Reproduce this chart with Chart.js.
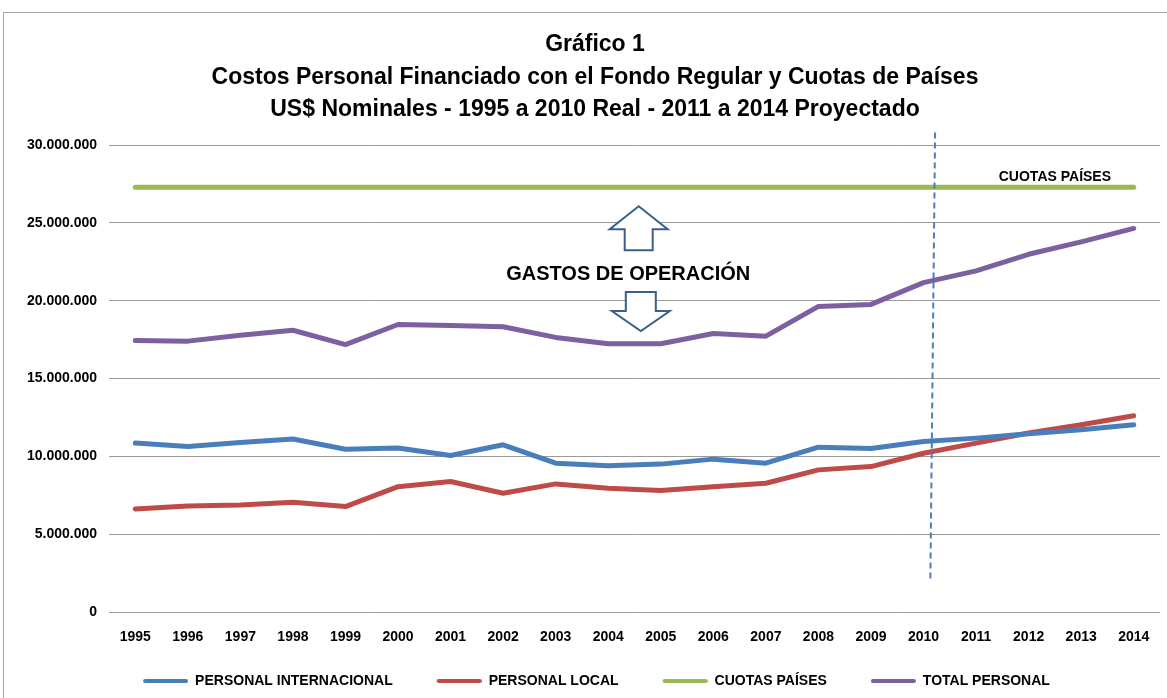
<!DOCTYPE html>
<html>
<head>
<meta charset="utf-8">
<script src="https://cdn.jsdelivr.net/npm/chart.js@4.4.1/dist/chart.umd.min.js"></script>
<style>
  html, body { margin: 0; padding: 0; background: #fff; }
  #wrap { position: relative; width: 1167px; height: 698px; overflow: hidden; }
  #frame { position: absolute; left: 3px; top: 12px; width: 1200px; height: 720px; border: 1px solid #a6a6a6; }
  #title { position: absolute; left: 0; top: 27px; width: 1190px; text-align: center;
           font-family: "Liberation Sans", sans-serif; font-weight: bold;
           font-size: 23px; line-height: 32.5px; color: #000; }
  canvas { position: absolute; left: 0; top: 0; }
</style>
</head>
<body>
<div id="wrap">
  <div id="frame"></div>
  <canvas id="chart" width="1167" height="698"></canvas>
  <div id="title">Gráfico 1<br>Costos Personal Financiado con el Fondo Regular y Cuotas de Países<br>US$ Nominales - 1995 a 2010 Real - 2011 a 2014 Proyectado</div>
</div>
<script>
const years = ["1995","1996","1997","1998","1999","2000","2001","2002","2003","2004",
               "2005","2006","2007","2008","2009","2010","2011","2012","2013","2014"];

// US$
const personalInternacional = [10850000,10630000,10890000,11110000,10460000,10530000,10050000,10740000,9560000,9390000,
                               9500000,9820000,9560000,10590000,10500000,10950000,11170000,11450000,11710000,12030000];
const personalLocal = [6620000,6810000,6880000,7050000,6770000,8050000,8380000,7630000,8230000,7950000,
                       7800000,8050000,8270000,9130000,9340000,10200000,10850000,11500000,12030000,12610000];
const cuotasPaises = [27280000,27280000,27280000,27280000,27280000,27280000,27280000,27280000,27280000,27280000,
                      27280000,27280000,27280000,27280000,27280000,27280000,27280000,27280000,27280000,27280000];
const totalPersonal = [17440000,17400000,17780000,18100000,17180000,18470000,18410000,18320000,17640000,17230000,
                       17230000,17890000,17720000,19630000,19760000,21160000,21910000,22980000,23780000,24640000];

const FONT = '"Liberation Sans", sans-serif';
const LEGEND_GAP = 30;   // empty lead-in in front of each legend swatch
const SWATCH_W = 45;

function fmt(v) {
  return String(Math.round(v)).replace(/\B(?=(\d{3})+(?!\d))/g, ".");
}

// legend swatch: a short thick line, with an empty lead-in for the spacing
function swatch(color) {
  const c = document.createElement("canvas");
  c.width = LEGEND_GAP + SWATCH_W;
  c.height = 6;
  const g = c.getContext("2d");
  g.strokeStyle = color;
  g.lineWidth = 4;
  g.lineCap = "round";
  g.beginPath();
  g.moveTo(LEGEND_GAP + 2, 3);
  g.lineTo(LEGEND_GAP + SWATCH_W - 2, 3);
  g.stroke();
  return c;
}

// Annotations: dashed 2010 divider, arrows and labels.
const annotations = {
  id: "annotations",
  afterDatasetsDraw(chart) {
    const { ctx, scales: { x, y } } = chart;
    const step = x.getPixelForValue(1) - x.getPixelForValue(0);
    const x2010 = x.getPixelForValue(15);

    ctx.save();
    ctx.strokeStyle = "#4a7ebb";
    ctx.lineWidth = 2;
    ctx.setLineDash([6, 4]);
    ctx.beginPath();
    ctx.moveTo(x2010 + 0.22 * step, y.getPixelForValue(30800000));
    ctx.lineTo(x2010 + 0.13 * step, y.getPixelForValue(2000000));
    ctx.stroke();
    ctx.setLineDash([]);

    ctx.fillStyle = "#000";
    ctx.textAlign = "center";
    ctx.textBaseline = "middle";
    ctx.font = "bold 14px " + FONT;
    ctx.fillText("CUOTAS PAÍSES", x.getPixelForValue(17) + 0.5 * step, y.getPixelForValue(27950000));

    ctx.font = "bold 20px " + FONT;
    ctx.fillText("GASTOS DE OPERACIÓN", x.getPixelForValue(9) + 0.38 * step, y.getPixelForValue(21680000));

    // up arrow
    ctx.strokeStyle = "#3b5f8c";
    ctx.fillStyle = "#fff";
    ctx.lineWidth = 2;
    let cx = x.getPixelForValue(9) + 0.58 * step;
    let tip = y.getPixelForValue(26060000);
    ctx.beginPath();
    ctx.moveTo(cx, tip);
    ctx.lineTo(cx + 29, tip + 23);
    ctx.lineTo(cx + 14, tip + 23);
    ctx.lineTo(cx + 14, tip + 44);
    ctx.lineTo(cx - 14, tip + 44);
    ctx.lineTo(cx - 14, tip + 23);
    ctx.lineTo(cx - 29, tip + 23);
    ctx.closePath();
    ctx.fill();
    ctx.stroke();

    // down arrow
    cx = x.getPixelForValue(9) + 0.62 * step;
    let top = y.getPixelForValue(20560000);
    ctx.beginPath();
    ctx.moveTo(cx - 15, top);
    ctx.lineTo(cx + 15, top);
    ctx.lineTo(cx + 15, top + 19);
    ctx.lineTo(cx + 29, top + 19);
    ctx.lineTo(cx, top + 39);
    ctx.lineTo(cx - 29, top + 19);
    ctx.lineTo(cx - 15, top + 19);
    ctx.closePath();
    ctx.fill();
    ctx.stroke();
    ctx.restore();
  }
};

function series(label, data, color) {
  return {
    label, data,
    borderColor: color,
    backgroundColor: color,
    borderWidth: 5,
    borderCapStyle: "round",
    borderJoinStyle: "round",
    pointRadius: 0,
    pointHoverRadius: 0,
    pointStyle: swatch(color),
    tension: 0,
  };
}

new Chart(document.getElementById("chart"), {
  type: "line",
  data: {
    labels: years,
    datasets: [
      series("PERSONAL INTERNACIONAL", personalInternacional, "#4a7ebb"),
      series("PERSONAL LOCAL", personalLocal, "#be4b48"),
      series("CUOTAS PAÍSES", cuotasPaises, "#98b954"),
      series("TOTAL PERSONAL", totalPersonal, "#7d60a0"),
    ],
  },
  options: {
    responsive: false,
    animation: false,
    layout: { padding: { left: 3, right: 7, top: 145, bottom: 0 } },
    scales: {
      x: {
        offset: true,
        grid: { display: false, drawTicks: false },
        border: { display: false },
        ticks: { color: "#000", padding: 17, maxRotation: 0, autoSkip: false,
                 font: { family: FONT, weight: "bold", size: 14 } },
        afterFit(scale) { scale.height = 48; },
      },
      y: {
        min: 0, max: 30000000,
        ticks: { stepSize: 5000000, color: "#000", padding: 12,
                 font: { family: FONT, weight: "bold", size: 14 },
                 callback: v => fmt(v) },
        grid: { color: "#9a9a9a", lineWidth: 1, drawTicks: false },
        border: { display: false },
        afterFit(scale) { scale.width = 106; },
      },
    },
    plugins: {
      legend: {
        position: "bottom",
        labels: { usePointStyle: true, pointStyleWidth: SWATCH_W + LEGEND_GAP, boxHeight: 6,
                  padding: 14, color: "#000",
                  font: { family: FONT, weight: "bold", size: 14 } },
      },
      tooltip: { enabled: false },
    },
  },
  plugins: [annotations],
});
</script>
</body>
</html>
